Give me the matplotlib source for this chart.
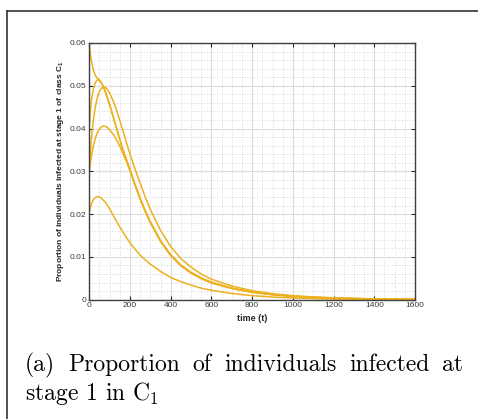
import matplotlib
matplotlib.use("Agg")
import matplotlib.pyplot as plt
from matplotlib.lines import Line2D
from matplotlib.ticker import MultipleLocator

# ---- data ----
time = [0, 5, 10, 20, 30, 40, 50, 60, 70, 80, 90, 100, 120, 140, 160, 180, 200, 225, 250, 275,
        300, 350, 400, 450, 500, 550, 600, 700, 800, 900, 1000, 1100, 1200, 1300, 1400, 1500, 1600]

series_a = [.0600, .0575, .0558, .0537, .0524, .0517, .0514, .0507, .0497, .0485, .0471, .0456, .0424,
            .0391, .0359, .0331, .0304, .0269, .0237, .0208, .0182, .0138, .0105, .0081, .0064, .0051,
            .0041, .0027, .0018, .0012, .0008, .00055, .00038, .00026, .00018, .00012, .00008]
series_b = [.0405, .0440, .0465, .0493, .0508, .0514, .0513, .0506, .0496, .0484, .0470, .0455, .0423,
            .0390, .0358, .0330, .0303, .0268, .0236, .0207, .0181, .0137, .0104, .0080, .0063, .0050,
            .0040, .0027, .0018, .0012, .0008, .00055, .00038, .00026, .00018, .00012, .00008]
series_c = [.0300, .0340, .0375, .0420, .0452, .0474, .0487, .0494, .0497, .0496, .0491, .0483, .0462,
            .0434, .0403, .0371, .0340, .0305, .0272, .0240, .0211, .0162, .0124, .0096, .0076, .0060,
            .0048, .0032, .0021, .0014, .00095, .00065, .00045, .0003, .0002, .00014, .0001]
series_d = [.0300, .0318, .0334, .0360, .0378, .0391, .0399, .0404, .0406, .0405, .0402, .0397, .0385,
            .0368, .0348, .0326, .0301, .0267, .0235, .0206, .0180, .0136, .0103, .0079, .0062, .0049,
            .0039, .0026, .0017, .00115, .00077, .00053, .00036, .00025, .00017, .00011, .00007]
series_e = [.0205, .0215, .0224, .0234, .0239, .0241, .0240, .0237, .0232, .0227, .0220, .0212, .0195,
            .0178, .0162, .0147, .0133, .0118, .0104, .0093, .0083, .0066, .0052, .0042, .0034, .0027,
            .0022, .00145, .00095, .00062, .0004, .00026, .00017, .00011, .00007, .00005, .00003]

x_ticks = [0, 200, 400, 600, 800, 1000, 1200, 1400, 1600]
y_ticks = [0, 0.01, 0.02, 0.03, 0.04, 0.05, 0.06]
y_tick_labels = ["0", "0.01", "0.02", "0.03", "0.04", "0.05", "0.06"]

W, H = 478, 419
plt.rcParams["mathtext.fontset"] = "custom"
plt.rcParams["mathtext.bf"] = "Liberation Sans:bold"
plt.rcParams["mathtext.rm"] = "cmr10"
fig = plt.figure(figsize=(W / 100, H / 100), dpi=100)

ax = fig.add_axes([89.3 / W, 1 - 299.7 / H, (415 - 89.3) / W, (299.7 - 43) / H])
color = "#EDB120"
for s in (series_e, series_d, series_c, series_b, series_a):
    ax.plot(time, s, color=color, lw=1.1, solid_joinstyle="round")

ax.set_xlim(0, 1600)
ax.set_ylim(0, 0.06)
ax.set_xticks(x_ticks)
ax.set_xticklabels([str(v) for v in x_ticks])
ax.set_yticks(y_ticks)
ax.set_yticklabels(y_tick_labels)
ax.xaxis.set_minor_locator(MultipleLocator(50))
ax.yaxis.set_minor_locator(MultipleLocator(0.002))
ax.grid(which="major", color="#dcdcdc", lw=0.8, ls="-")
ax.grid(which="minor", color="#cccccc", lw=0.6, ls=(0, (1, 2)))
ax.set_axisbelow(True)
ax.tick_params(which="major", direction="in", length=3, width=0.8, top=True, right=True,
               labelsize=6.0, labelcolor="#3a3a3a", color="#262626", pad=2)
ax.tick_params(which="minor", length=0)
for sp in ax.spines.values():
    sp.set_color("#404040")
    sp.set_linewidth(1.0)
for lab in ax.get_xticklabels() + ax.get_yticklabels():
    lab.set_family("Liberation Sans")

ax.set_xlabel("time (t)", fontsize=6.4, fontweight="bold", family="Liberation Sans",
              color="#262626", labelpad=3)
ax.set_ylabel("Proportion of individuals infected at stage 1 of class C$_\\mathbf{1}$",
              fontsize=6.0, fontweight="bold", family="Liberation Sans", color="#262626", labelpad=3)

# outer frame of the subfigure
fig.add_artist(Line2D([7 / W, 7 / W], [0, 1 - 11 / H], transform=fig.transFigure, color="#333333", lw=1.2))
fig.add_artist(Line2D([7 / W, 1], [1 - 11 / H, 1 - 11 / H], transform=fig.transFigure, color="#333333", lw=1.2))

# justified caption
words = ["(a)", "Proportion", "of", "individuals", "infected", "at"]
fs = 17
renderer = fig.canvas.get_renderer()
texts = []
for w in words:
    t = fig.text(0, 1 - 371 / H, w, fontsize=fs, family="cmr10", va="baseline", ha="left")
    texts.append(t)
widths = [t.get_window_extent(renderer).width for t in texts]
x0, x1 = 25, 463
gap = (x1 - x0 - sum(widths)) / (len(words) - 1)
x = x0
for t, wdt in zip(texts, widths):
    t.set_x(x / W)
    x += wdt + gap
fig.text(25 / W, 1 - 400 / H, "stage 1 in C$_1$", fontsize=fs, family="cmr10", va="baseline", ha="left")

fig.savefig("out.png", dpi=100)
